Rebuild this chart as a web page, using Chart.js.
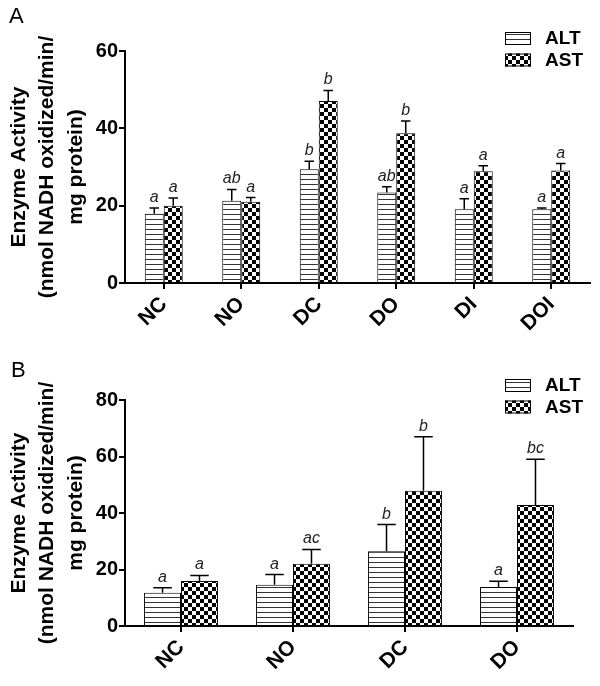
<!DOCTYPE html>
<html>
<head>
<meta charset="utf-8">
<script src="https://cdn.jsdelivr.net/npm/chart.js@4.4.0/dist/chart.umd.min.js"></script>
<style>
  body { margin: 0; background: #fff; }
  .panel { position: relative; width: 600px; height: 343px; }
  .panel-label { position: absolute; font-family: "Liberation Sans", Arial, sans-serif; font-size: 22px; color: #000; }
</style>
</head>
<body>
<div class="panel">
  <div class="panel-label" style="left:9px; top:3px;">A</div>
  <canvas id="chartA" width="600" height="343"></canvas>
</div>
<div class="panel">
  <div class="panel-label" style="left:11px; top:14px;">B</div>
  <canvas id="chartB" width="600" height="343"></canvas>
</div>
<script>
// パネルA
const categoriesA = ['NC', 'NO', 'DC', 'DO', 'DI', 'DOI'];
const altA = [17.9, 21.3, 29.4, 23.4, 19.1, 19.1];
const altErrA = [1.5, 2.9, 2.1, 1.5, 2.7, 0.3];
const astA = [20.0, 21.0, 47.1, 38.7, 28.9, 29.1];
const astErrA = [2.0, 1.1, 2.7, 3.2, 1.4, 1.8];
const altLettersA = ['a', 'ab', 'b', 'ab', 'a', 'a'];
const astLettersA = ['a', 'a', 'b', 'b', 'a', 'a'];

// パネルB
const categoriesB = ['NC', 'NO', 'DC', 'DO'];
const altB = [11.8, 14.6, 26.5, 13.8];
const altErrB = [1.7, 3.6, 9.4, 2.0];
const astB = [15.9, 22.0, 47.9, 42.8];
const astErrB = [2.0, 5.1, 19.1, 16.2];
const altLettersB = ['a', 'a', 'b', 'a'];
const astLettersB = ['a', 'ac', 'b', 'bc'];

const yTitle = ['Enzyme Activity', '(nmol NADH oxidized/min/', 'mg protein)'];
const FONT = '"Liberation Sans", Arial, sans-serif';

function stripePattern() {
    const c = document.createElement('canvas');
    c.width = 8; c.height = 5;
    const g = c.getContext('2d');
    g.fillStyle = '#fff'; g.fillRect(0, 0, 8, 5);
    g.fillStyle = '#333'; g.fillRect(0, 4, 8, 1);
    return document.getElementById('chartA').getContext('2d').createPattern(c, 'repeat');
}

function checkerPattern() {
    const c = document.createElement('canvas');
    c.width = 8; c.height = 8;
    const g = c.getContext('2d');
    g.fillStyle = '#fff'; g.fillRect(0, 0, 8, 8);
    g.fillStyle = '#000';
    g.fillRect(0, 0, 4, 4);
    g.fillRect(4, 4, 4, 4);
    return document.getElementById('chartA').getContext('2d').createPattern(c, 'repeat');
}

// エラーバーと有意差の文字
const errorBarPlugin = {
    id: 'errorBars',
    afterDatasetsDraw(chart) {
        const ctx = chart.ctx;
        const yScale = chart.scales.y;
        chart.data.datasets.forEach((ds, i) => {
            const meta = chart.getDatasetMeta(i);
            meta.data.forEach((bar, j) => {
                const top = yScale.getPixelForValue(ds.data[j] + ds.errors[j]);
                const half = bar.width / 4;
                ctx.save();
                ctx.strokeStyle = '#000';
                ctx.lineWidth = 1.5;
                ctx.beginPath();
                ctx.moveTo(bar.x, bar.y);
                ctx.lineTo(bar.x, top);
                ctx.moveTo(bar.x - half, top);
                ctx.lineTo(bar.x + half, top);
                ctx.stroke();
                ctx.fillStyle = '#222';
                ctx.font = 'italic 16px ' + FONT;
                ctx.textAlign = 'center';
                ctx.textBaseline = 'alphabetic';
                ctx.fillText(ds.letters[j], bar.x, top - 6);
                ctx.restore();
            });
        });
    }
};

// 凡例（右上、プロット領域に重ねる）
const legendPlugin = {
    id: 'cornerLegend',
    afterDraw(chart, args, opts) {
        const ctx = chart.ctx;
        chart.data.datasets.forEach((ds, i) => {
            const y = opts.y + i * opts.gap;
            ctx.save();
            ctx.fillStyle = ds.backgroundColor;
            ctx.fillRect(opts.x, y, 26, 13);
            ctx.strokeStyle = '#000';
            ctx.lineWidth = 1;
            ctx.strokeRect(opts.x + 0.5, y + 0.5, 25, 12);
            ctx.fillStyle = '#000';
            ctx.font = 'bold 19px ' + FONT;
            ctx.textBaseline = 'middle';
            ctx.fillText(ds.label, opts.x + 40, y + 7);
            ctx.restore();
        });
    }
};

function drawPanel(canvasId, cfg) {
    const axisGrid = { display: true, drawOnChartArea: false, drawTicks: true, tickLength: 6, color: '#000', lineWidth: 2, offset: false };
    new Chart(document.getElementById(canvasId), {
        type: 'bar',
        data: {
            labels: cfg.labels,
            datasets: [
                { label: 'ALT', data: cfg.alt, errors: cfg.altErr, letters: cfg.altLetters,
                  backgroundColor: stripePattern(), borderColor: '#000', borderWidth: 1 },
                { label: 'AST', data: cfg.ast, errors: cfg.astErr, letters: cfg.astLetters,
                  backgroundColor: checkerPattern(), borderColor: '#000', borderWidth: 1 }
            ]
        },
        options: {
            responsive: false,
            animation: false,
            layout: { padding: { top: cfg.top, right: cfg.right, left: 0, bottom: 0 } },
            datasets: { bar: { categoryPercentage: cfg.catPct, barPercentage: 1 } },
            plugins: {
                legend: { display: false },
                tooltip: { enabled: false },
                cornerLegend: { x: 505, y: cfg.legendY, gap: 21.5 }
            },
            scales: {
                x: {
                    grid: axisGrid,
                    border: { display: true, color: '#000', width: 2 },
                    ticks: { color: '#000', font: { family: FONT, size: 21, weight: 'bold' }, minRotation: 45, maxRotation: 45, padding: 3 },
                    afterFit: (s) => { s.height = 60; }
                },
                y: {
                    min: 0,
                    max: cfg.max,
                    grid: axisGrid,
                    border: { display: true, color: '#000', width: 2 },
                    ticks: { stepSize: 20, color: '#000', font: { family: FONT, size: 20, weight: 'bold' }, padding: 1 },
                    title: { display: true, text: yTitle, color: '#000', font: { family: FONT, size: 21, weight: 'bold', lineHeight: 1.35 }, padding: { top: 5, bottom: 0 } },
                    afterFit: (s) => { s.width = 125; }
                }
            }
        },
        plugins: [errorBarPlugin, legendPlugin]
    });
}

drawPanel('chartA', {
    labels: categoriesA, alt: altA, altErr: altErrA, ast: astA, astErr: astErrA,
    altLetters: altLettersA, astLetters: astLettersA,
    max: 60, top: 51, right: 10, catPct: 0.49, legendY: 32
});

drawPanel('chartB', {
    labels: categoriesB, alt: altB, altErr: altErrB, ast: astB, astErr: astErrB,
    altLetters: altLettersB, astLetters: astLettersB,
    max: 80, top: 57, right: 27, catPct: 0.66, legendY: 36
});
</script>
</body>
</html>
